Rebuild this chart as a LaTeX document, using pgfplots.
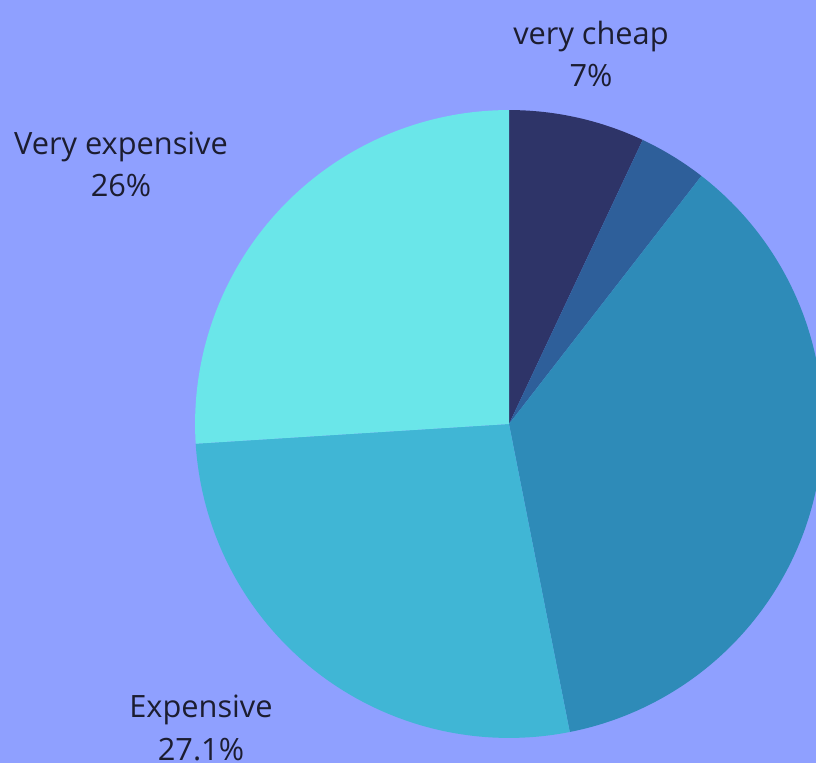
\documentclass[border=0pt]{standalone}
\usepackage{fontspec}
\setmainfont{Open Sans}
\usepackage{pgfplots}
\pgfplotsset{compat=1.18}
\definecolor{bg}{HTML}{8FA0FF}
\definecolor{txt}{HTML}{1C1D30}
\definecolor{s1}{HTML}{2E3468}
\definecolor{s2}{HTML}{2E5F9A}
\definecolor{s3}{HTML}{2E8BB8}
\definecolor{s4}{HTML}{40B6D5}
\definecolor{s5}{HTML}{6AE6E9}
% slice: cumulative start (%), share (%), colour
\newcommand\slice[3]{\fill[#3] (axis cs:509,424) -- ++({90-3.6*(#1)}:6.28cm)
  arc[start angle={90-3.6*(#1)}, delta angle={-3.6*(#2)}, radius=6.28cm] -- cycle;}
\begin{document}
\begin{tikzpicture}
\begin{axis}[hide axis, scale only axis, x=0.02cm, y=0.02cm,
  xmin=0, xmax=816, ymin=0, ymax=763, y dir=reverse, clip=true]
\fill[bg] (axis cs:0,0) rectangle (axis cs:816,763);
\slice{0}{7}{s1}
\slice{7}{3.5}{s2}
\slice{10.5}{36.4}{s3}
\slice{46.9}{27.1}{s4}
\slice{74}{26}{s5}
\begin{scope}[every node/.style={font=\fontsize{17.5}{24}\selectfont, text=txt, align=center}]
\node at (axis cs:591,54) {very cheap\\7\%};
\node at (axis cs:121,164) {Very expensive\\26\%};
\node at (axis cs:201,728) {Expensive\\27.1\%};
\end{scope}
\end{axis}
\end{tikzpicture}
\end{document}
